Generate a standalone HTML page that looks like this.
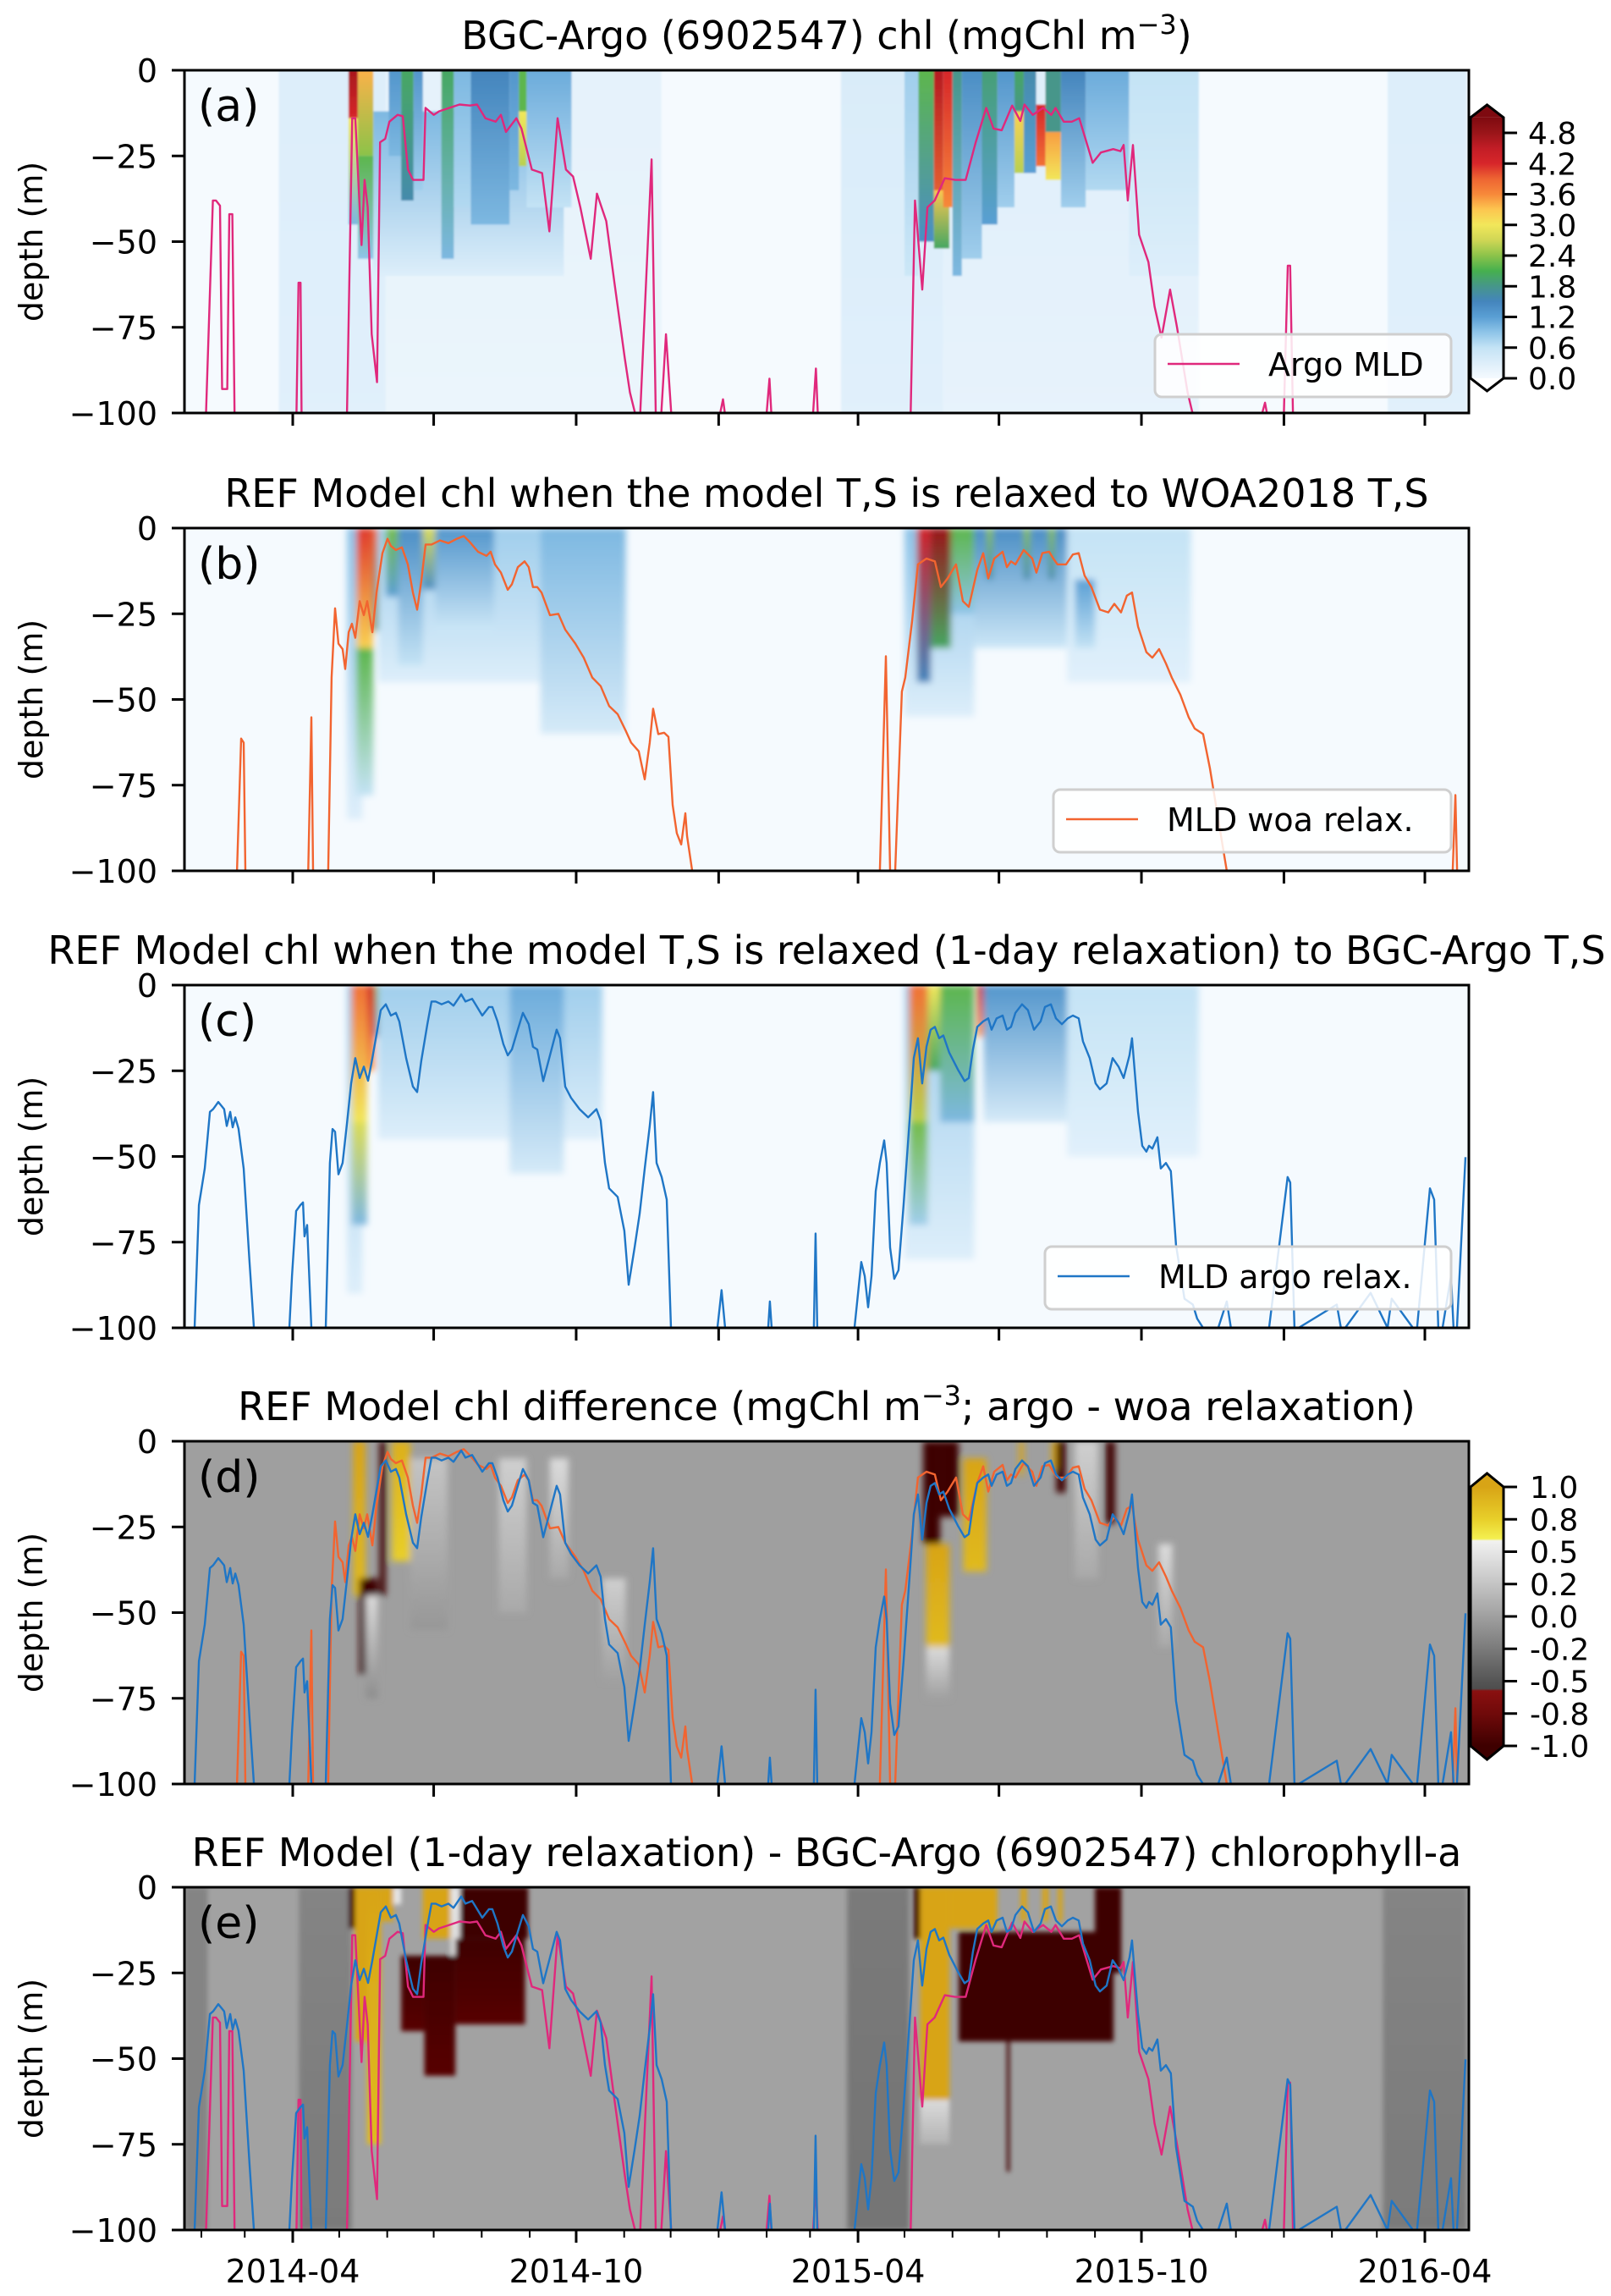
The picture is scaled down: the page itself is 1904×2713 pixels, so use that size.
<!DOCTYPE html>
<html><head><meta charset="utf-8"><style>
html,body{margin:0;padding:0;background:#fff;}
svg{display:block;font-family:"DejaVu Sans","Liberation Sans",sans-serif;}
</style></head><body>
<svg id="fig" xmlns="http://www.w3.org/2000/svg" width="1904" height="2713" viewBox="0 0 1904 2713"></svg>
<script>
// ---- data (day offsets relative to 2014-04-01, depth in m) ----
const mldArgoDay=[-56,-51.6,-49.6,-47,-45.6,-42.3,-41,-39,-37.6,2.4,3.7,5,5.7,35,38.4,40.4,44.4,46.4,48.4,51,54.4,56.4,59.7,62.4,67.7,71,74.4,77.7,84.4,85.7,91,94.4,101,107.7,114.4,119,124.4,131,134.4,137.7,144.4,147.7,154.4,161,165.7,171,176.4,181,185.7,192.4,196.4,202.4,207.7,214.4,217.7,221,224.4,227.7,231.7,234.4,238,241,244.4,276,277.8,279,306,307.8,309,336,337.8,339,399,401.8,406.5,409.8,414.5,421,427.8,434.5,441,447.8,452.5,457.8,464.5,469.8,472.5,477.8,484.5,489.8,492.5,497.8,503,507.8,512.5,516.5,521.8,529.8,534.5,536.5,539.2,542.5,546.5,552.5,556.5,561,566.5,571,577.8,581,626,627.8,629,640,642.5,644,645.8];
const mldArgoDepth=[100,38,38,39.5,93,93,42,42,100,100,62,62,100,100,14,14,51,32,40,77,91,21,20,15,13,13.4,29,32,32,11,13,12,11,10,10.3,10,14,15,13,18,14,17,29,30,47,14,29,31,40,55,36,44,62,84,94,100,100,66,26,100,100,77,100,100,96,100,100,90,100,100,87,100,100,38,64,40,38,31.5,32,32,21,11,17,17.5,10.3,14.8,10,13,11,13,11,15,15,14,21,27,24,23,23.6,21.8,38,21.8,48,56,69,78,64,75,94,100,100,97,100,100,57,57,100];
const mldWoaDay=[-36,-33.3,-31.7,-30.6,10,12,13.1,15.8,22.9,25.1,27.3,29.5,32.2,33.9,36.1,38.2,40.4,43.2,45.9,48.1,51.4,54.1,57.9,61.2,63.4,66.6,70.5,74.3,77.6,80.3,83,85.8,89.6,95.1,100.5,106,110.4,114.2,119.6,125.1,127.8,130.6,134.4,138.8,141.5,145.3,149.7,152.4,155.1,157.9,160.6,166.1,171.5,175.9,182.5,187.9,193.4,198.8,204.3,209.8,215.2,218.5,223.4,227.3,230.5,232.7,236,239.8,242.6,245.3,248,250.8,253.5,254.6,257.9,379.1,383,385.7,389,393.3,395.5,399.9,403.7,409.2,414.6,418.5,422.8,428.3,432.7,436.5,442,445.8,449.1,452.9,458.4,461.1,463.8,466.6,472,477.5,480.2,484,488.4,491.1,493.8,499.3,503.7,507.5,511.3,515.7,521.2,526.6,530.5,534.8,538.6,541.9,545.8,551.2,555,559.4,563.8,567.6,573.1,578.5,582.4,587.8,592.2,597.6,603.1,749,750.7,751.8];
const mldWoaDepth=[100,61.4,62.6,100,100,55.2,100,100,100,43.6,23.4,33.7,35.3,41.1,30.4,27.9,32,21.3,25.4,21.3,30.4,18.8,7.3,3.1,5.2,6.4,5.6,10.6,18.8,23.8,15.5,4.8,4.8,3.6,4.4,3.1,2.3,4,6.9,8.1,6.9,10.6,13,18,16.4,11.4,9.7,11.4,17.2,17.2,18.8,25.4,25,29.6,33.7,37.8,43.6,46.1,51.9,54.3,59.3,62.6,65.1,73.3,62.6,52.7,60.1,59.7,60.9,80.8,89,92.3,83.2,89.8,100,100,37.4,100,100,47.7,43.6,27.1,10.6,8.9,9.7,17.2,14.7,10.6,21.3,23,12.2,7.3,14.7,8.9,6.9,11.4,9.7,10.6,6.4,8.9,13,7.3,6.9,8.9,10.6,10.6,7.7,7.3,13.9,17.2,23.8,24.6,22.1,24.6,19.7,18.8,28.7,36.2,37.8,35.3,39.5,43.6,48.6,55.2,58.5,60.1,70,84.9,100,100,77.9,100];
const mldRelaxDay=[-63.4,-60.6,-56.8,-53.5,-51.4,-48.1,-45.9,-44.3,-42.6,-40.4,-38.8,-37.1,-35,-31.7,-27.9,-25.1,-2.2,-0.5,2.2,4.9,6.6,7.6,9.3,12,21.3,24,25.7,27.3,29.5,32.2,35,37.7,40.4,43.2,45.9,48.6,51.4,56.8,60.1,63.4,66.6,68.8,73.2,77.6,80.3,83,86.9,89.6,92.3,96.1,100.5,103.8,108.8,111.5,115.8,118,122.4,126.7,128.9,132.2,136,138.8,141.5,144.2,148.6,152.4,155.1,157.9,161.7,166.1,170.4,172.6,175.9,179.7,185.2,190.7,196.1,198.8,201.6,204.3,209.8,214.1,216.9,220.7,224,227.3,230.5,232.7,234.9,238.2,241.5,244.2,274.2,276.9,279.2,307,308.1,309.2,336.5,337.6,338.7,362.7,367.1,369.3,371.5,373.7,376.4,379.1,381.9,383.5,385.7,388.4,391.1,394.4,398.3,401,403.7,406.4,409.2,411.9,414.6,417.4,420.1,423.9,429.4,433.8,436.5,439.2,442,445.8,449.1,451.2,454.5,458.4,461.1,463.8,466.6,470.9,474.7,478.6,482.9,485.7,489.5,492.8,496.6,500.4,503.7,507.5,510.2,514.6,518.4,521.2,525.5,529.4,533.2,536.5,540.3,541.9,545.8,548.5,551.2,552.9,555,558.3,560.5,563.8,567,570.3,575.8,581.2,584,587.8,597.6,603.1,605.8,630.4,642.4,644.1,646.8,649.5,674.1,676.8,679.6,696,706.9,709.6,723.3,726,734.3,737,739.7,742.4,747.9,749.5,751.7,757.2,759.9];
const mldRelaxDepth=[100,64.2,53.5,37,36.2,34.1,35.3,36.2,41.1,37,41.5,38.6,41.9,53.5,80.8,100,100,84.9,65.9,64.2,63.4,73.3,70,100,100,51.9,42,42.8,55.2,51.9,40.3,28.7,21.3,27.1,23.8,27.9,21.3,7.3,5.6,8.9,8.1,10.6,21.3,29.6,31.2,22.1,11.4,4.8,4.8,5.6,4.8,6,2.7,4.8,4,5.6,8.9,6.4,6.4,10.6,17.2,20.5,18.8,14.7,8.1,11.4,18,18.8,28,20.5,13,15.5,29.6,32.9,36.2,38.6,36.2,39.5,51.9,59.3,61.8,71.7,87.4,76.6,66.7,53.5,41.1,31.2,51.9,56,62.6,100,100,89,100,100,92.3,100,100,72.5,100,100,80.8,84.9,94,84.9,60.1,51.9,45.3,51.9,76.6,85.7,83.2,64.2,39.5,21.3,15.5,28.7,18,13,12.2,15.5,14.7,19.7,24.6,28,27.1,18.8,12.2,10.6,9.7,13,9.7,8.9,13,12.2,8.1,5.6,7.3,13,10.6,6.4,5.6,9.7,11.4,9.7,8.9,9.7,16.4,21.3,28.7,30.4,28.7,21.3,23.8,27.1,20.5,15.5,37,46.9,48.6,46.9,47.7,44.4,53.5,51.9,54.3,75.8,91.5,93.2,97.3,100,100,92.3,100,100,56,57.6,100,100,93.2,100,100,89.8,100,91.5,100,100,59.3,62.6,100,100,84.9,100,100,50.2];

// heat-map patches: [dayStart, dayEnd, depthTop, depthBottom, valueTop, valueBottom]
const patchesA=[[-9,60,0,100,0.3,0.25],[60,238,0,100,0.2,0.12],[354,420,0,100,0.35,0.25],[420,585,0,100,0.28,0.18],[707,758,0,100,0.3,0.25],[52,175,12,60,1.0,0.3],[36,42,0,14,4.7,4.2],[36,42,14,45,3.0,1.0],[42,52,0,25,3.4,2.4],[42,52,25,55,2.2,0.9],[62,70,0,25,1.3,1.0],[70,78,0,38,2.0,1.6],[78,84,0,35,1.3,0.8],[96,104,0,55,2.0,1.0],[104,115,0,40,1.0,0.7],[115,140,0,45,1.5,1.0],[140,146,0,35,1.3,1.0],[146,151,0,12,2.2,2.2],[146,151,12,28,3.0,2.6],[151,180,0,40,1.1,0.6],[395,404,0,60,0.8,0.5],[404,414,0,50,2.2,1.4],[414,420,0,45,4.6,3.8],[414,424,35,52,3.3,2.0],[420,426,0,40,4.2,3.6],[426,432,0,60,1.8,1.0],[432,445,0,55,1.4,0.8],[445,455,0,45,1.9,1.2],[455,466,0,40,1.3,0.8],[466,472,0,12,2.0,1.8],[466,472,12,30,3.2,2.6],[472,480,0,30,1.6,1.2],[480,486,10,28,4.2,3.8],[486,496,18,32,3.5,3.0],[486,496,0,18,1.8,1.8],[496,512,0,40,1.5,0.8],[512,540,0,35,1.1,0.7],[540,585,0,60,0.6,0.3]];
const patchesB=[[35,45,0,85,0.9,0.3],[41,52,0,35,4.1,3.2],[41,52,35,78,2.2,0.6],[52,60,0,30,3.8,1.8],[55,180,0,45,0.8,0.3],[60,68,0,20,2.3,1.2],[68,84,0,40,1.4,0.6],[84,92,0,18,2.8,1.4],[92,130,0,30,1.3,0.5],[160,215,0,60,1.0,0.4],[395,440,0,55,0.9,0.3],[403,412,0,45,4.3,1.5],[412,425,0,35,4.8,2.0],[425,440,0,25,2.2,0.9],[440,500,0,35,1.4,0.5],[448,452,0,15,2.4,1.6],[472,476,0,15,2.4,1.6],[488,492,0,15,2.4,1.6],[500,580,0,45,0.6,0.25],[505,518,15,35,1.2,0.6]];
const patchesC=[[35,45,0,90,0.8,0.3],[38,48,0,40,3.8,3.0],[38,48,40,70,2.8,1.0],[48,53,0,25,4.3,3.5],[53,62,0,15,2.4,1.6],[62,95,0,35,1.6,0.5],[55,200,0,45,0.8,0.3],[140,175,0,55,1.1,0.4],[395,440,0,80,0.8,0.3],[398,410,0,40,3.8,2.6],[398,410,40,70,2.3,0.8],[410,418,0,25,3.0,2.0],[418,440,0,40,2.2,1.0],[442,446,0,15,4.5,3.5],[446,500,0,40,1.3,0.4],[500,585,0,50,0.6,0.25]];
const patchesD=[[39,47,0,45,1,0.9],[43,55,40,68,-1,-1],[56,60,0,45,-1,-1],[47,55,45,75,0.4,-0.1],[64,76,0,35,0.95,0.8],[76,100,5,55,0.2,-0.05],[133,151,5,50,0.3,0.05],[166,178,5,40,0.4,0.05],[200,215,40,70,0.3,0],[407,418,0,30,-1,-1],[418,430,0,22,-1,-1],[409,424,30,60,1,0.9],[409,424,60,75,0.4,0],[433,448,5,38,1,0.9],[469,472,0,10,1,1],[490,493,0,8,1,1],[493,499,0,15,-1,-1],[505,511,17,21,1,1],[525,531,0,24,-1,-1],[505,520,0,40,0.3,0.05],[559,568,30,60,0.4,0.05]];
const patchesE=[[-70,-55,0,100,-0.15,-0.15],[4,38,0,100,-0.15,-0.2],[358,398,0,100,-0.2,-0.25],[704,758,0,100,-0.15,-0.2],[36,41,0,12,-1,-1],[40,50,0,45,1,1],[48,57,0,75,1,0.9],[57,65,0,10,1,1],[65,70,0,5,0.5,0.5],[84,102,0,15,1,1],[102,110,0,20,0.5,0.4],[70,85,20,42,-1,-0.9],[85,105,20,55,-1,-0.9],[105,150,15,40,-1,-0.9],[108,152,0,15,-1,-1],[401,414,0,15,-1,-1],[405,424,0,62,1,1],[424,455,0,12,1,1],[430,530,13,45,-1,-1],[461,463,45,83,-1,-1],[518,535,0,25,-1,-1],[470,474,0,10,1,1],[484,488,0,10,1,1],[494,497,0,10,1,1],[405,424,62,75,0.4,0.1]];

const depthTicks=[0,25,50,75,100];
const chlTicks=[0.0,0.6,1.2,1.8,2.4,3.0,3.6,4.2,4.8];
const diffTicks=["1.0","0.8","0.5","0.2","0.0","-0.2","-0.5","-0.8","-1.0"];
const dateLabels=["2014-04","2014-10","2015-04","2015-10","2016-04"];

// ---- layout ----
const NS="http://www.w3.org/2000/svg";
const svg=document.getElementById('fig');
const L=218,R=1736,H=405;
const tops=[83,624,1164,1703,2230];
const x0=346,pxPerDay=1338/731;
function xOf(d){return x0+d*pxPerDay;}
function yOf(z,top){return top+z/100*H;}
function mk(tag,attrs,parent){const e=document.createElementNS(NS,tag);for(const k in attrs)e.setAttribute(k,attrs[k]);(parent||svg).appendChild(e);return e;}
function hex(c){c=c.replace('#','');if(c.length===3)c=c.split('').map(s=>s+s).join('');return[parseInt(c.slice(0,2),16),parseInt(c.slice(2,4),16),parseInt(c.slice(4,6),16)];}
function interp(stops,v){
  if(v<=stops[0][0])return stops[0][1];
  if(v>=stops[stops.length-1][0])return stops[stops.length-1][1];
  for(let i=0;i<stops.length-1;i++){const a=stops[i],b=stops[i+1];if(v>=a[0]&&v<=b[0]){const t=(v-a[0])/(b[0]-a[0]||1);const ca=hex(a[1]),cb=hex(b[1]);return 'rgb('+ca.map((x,j)=>Math.round(x+(cb[j]-x)*t)).join(',')+')';}}
}
const chlStops=[[0,'#f5fafe'],[0.3,'#ddeefa'],[0.6,'#c4e3f5'],[0.9,'#8ec4e8'],[1.2,'#5a9fd4'],[1.5,'#4485bd'],[1.8,'#46968a'],[2.1,'#46b04e'],[2.4,'#8cc34a'],[2.7,'#cfd655'],[3.0,'#f2e75a'],[3.3,'#fcc650'],[3.6,'#f7893a'],[3.9,'#ee6532'],[4.2,'#d7262a'],[4.5,'#c21d26'],[4.8,'#9a1519'],[5.1,'#7e0a10']];
const diffStops=[[-1,'#3e0000'],[-0.8,'#700a0a'],[-0.59,'#8a1010'],[-0.57,'#4e4e4e'],[-0.5,'#555555'],[-0.2,'#7a7a7a'],[0,'#a0a0a0'],[0.2,'#c4c4c4'],[0.5,'#e6e6e6'],[0.6,'#f2f2f0'],[0.62,'#f4f050'],[0.8,'#e8cf2a'],[1,'#d8a416']];

const defs=mk('defs',{});
[['blurA',1.0],['blurM',4],['blurS',3]].forEach(([id,s])=>{const f=mk('filter',{id:id,x:'-5%',y:'-5%',width:'110%',height:'110%'},defs);mk('feGaussianBlur',{stdDeviation:s},f);});
let gid=0;
function gradient(c1,c2){const id='g'+(gid++);const g=mk('linearGradient',{id:id,x1:0,y1:0,x2:0,y2:1},defs);mk('stop',{offset:0,'stop-color':c1},g);mk('stop',{offset:1,'stop-color':c2},g);return id;}

const panels=[
 {key:'a',title:'BGC-Argo (6902547) chl (mgChl m',sup:'−3',after:')',bg:'#f5fafe',patches:patchesA,stops:chlStops,blur:'blurA',lines:[['argo-mld-line',mldArgoDay,mldArgoDepth,'#e0287c']],legend:['Argo MLD','#e0287c',1365,395,350]},
 {key:'b',title:'REF Model chl when the model T,S is relaxed to WOA2018 T,S',bg:'#f5fafe',patches:patchesB,stops:chlStops,blur:'blurM',lines:[['woa-mld-line',mldWoaDay,mldWoaDepth,'#f26430']],legend:['MLD woa relax.','#f26430',1245,933,470]},
 {key:'c',title:'REF Model chl when the model T,S is relaxed (1-day relaxation) to BGC-Argo T,S',bg:'#f5fafe',patches:patchesC,stops:chlStops,blur:'blurM',lines:[['relax-mld-line',mldRelaxDay,mldRelaxDepth,'#1f76c6']],legend:['MLD argo relax.','#1f76c6',1235,1473,480]},
 {key:'d',title:'REF Model chl difference (mgChl m',sup:'−3',after:'; argo - woa relaxation)',bg:'#9f9f9f',patches:patchesD,stops:diffStops,blur:'blurM',lines:[['woa-mld-line',mldWoaDay,mldWoaDepth,'#f26430'],['relax-mld-line',mldRelaxDay,mldRelaxDepth,'#1f76c6']]},
 {key:'e',title:'REF Model (1-day relaxation) - BGC-Argo (6902547) chlorophyll-a',bg:'#a2a2a2',patches:patchesE,stops:diffStops,blur:'blurS',lines:[['argo-mld-line',mldArgoDay,mldArgoDepth,'#e0287c'],['relax-mld-line',mldRelaxDay,mldRelaxDepth,'#1f76c6']]}
];

const base=Date.UTC(2014,3,1);
const months=[];
for(let y=2014;y<=2016;y++)for(let m=0;m<12;m++){const d=(Date.UTC(y,m,1)-base)/86400000;const x=xOf(d);if(x>=L&&x<=R)months.push({d:d,m:m,y:y});}

panels.forEach((p,i)=>{
  const top=tops[i];
  const g=mk('g',{});
  
  
  const cp=mk('clipPath',{id:'clip'+p.key},defs);mk('rect',{x:L,y:top,width:R-L,height:H},cp);
  const bg=mk('rect',{x:L,y:top,width:R-L,height:H,fill:p.bg},g);
  
  
  const field=mk('g',{'clip-path':'url(#clip'+p.key+')'},g);
  const inner=mk('g',p.blur?{filter:'url(#'+p.blur+')'}:{},field);
  
  
  p.patches.forEach(pt=>{
    const id=gradient(interp(p.stops,pt[4]),interp(p.stops,pt[5]));
    const r=mk('rect',{x:xOf(pt[0]),y:yOf(pt[2],top),width:Math.max(1,xOf(pt[1])-xOf(pt[0])),height:yOf(pt[3],top)-yOf(pt[2],top),fill:'url(#'+id+')'},inner);
    
    
  });
  const lg=mk('g',{'clip-path':'url(#clip'+p.key+')'},g);
  p.lines.forEach(ln=>{
    const pts=ln[1].map((d,k)=>xOf(d).toFixed(1)+','+yOf(Math.min(ln[2][k],101),top).toFixed(1)).join(' ');
    const pl=mk('polyline',{points:pts,fill:'none',stroke:ln[3],'stroke-width':2.4,'stroke-linejoin':'round'},lg);
    
    
  });
  const fr=mk('rect',{x:L,y:top,width:R-L,height:H,fill:'none',stroke:'#000','stroke-width':3},g);
  
  
  depthTicks.forEach(t=>{
    const y=yOf(t,top);
    mk('line',{x1:L-15,x2:L,y1:y,y2:y,stroke:'#000','stroke-width':3},g);
    const tx=mk('text',{x:186,y:y+14,'text-anchor':'end','font-size':38},g);
    tx.textContent=t===0?'0':'−'+t;
    
    
  });
  months.forEach(mo=>{
    const x=xOf(mo.d);const major=(mo.m%3===0);
    if(p.key!=='e'&&!major)return;
    const big=p.key==='e'?(mo.m===3||mo.m===9):true;
    mk('line',{x1:x,x2:x,y1:top+H,y2:top+H+(big?15:9),stroke:'#000','stroke-width':big?3:2},g);
  });
  const yl=mk('text',{x:0,y:0,'font-size':38,'text-anchor':'middle',transform:'translate(50,'+(top+H/2)+') rotate(-90)'},g);
  yl.textContent='depth (m)';
  
  
  const tt=mk('text',{x:(L+R)/2,y:top-25,'font-size':46,'text-anchor':'middle'},g);
  
  
  tt.appendChild(document.createTextNode(p.title));
  if(p.sup){const s=mk('tspan',{'font-size':32,dy:-18},tt);s.textContent=p.sup;const a=mk('tspan',{dy:18},tt);a.textContent=p.after;}
  const lt=mk('text',{x:234,y:top+60,'font-size':52},g);
  lt.textContent='('+p.key+')';
  
  
  if(p.legend){
    const [lab,col,lx,ly,lw]=p.legend;
    const lgd=mk('g',{},g);
    
    
    mk('rect',{x:lx,y:ly,width:lw,height:74,rx:8,fill:'#ffffff','fill-opacity':0.85,stroke:'#cfcfcf','stroke-width':3},lgd);
    mk('line',{x1:lx+15,x2:lx+100,y1:ly+35,y2:ly+35,stroke:col,'stroke-width':2.5},lgd);
    const t=mk('text',{x:lx+134,y:ly+49,'font-size':38},lgd);
    t.textContent=lab;
    
    
  }
});

dateLabels.forEach(s=>{
  const [yy,mm]=s.split('-').map(Number);
  const d=(Date.UTC(yy,mm-1,1)-base)/86400000;
  const t=mk('text',{x:xOf(d),y:2697,'font-size':38,'text-anchor':'middle'});
  t.textContent=s;
  
  
});

(function(){
  const g=mk('g',{});
  
  
  const cx0=1738,cx1=1777,yb=447,per=(447-157)/4.8,yt=yb-5.1*per;
  const gi='cbchl';const lg=mk('linearGradient',{id:gi,x1:0,y1:1,x2:0,y2:0},defs);
  chlStops.forEach(s=>mk('stop',{offset:s[0]/5.1,'stop-color':s[1]},lg));
  mk('rect',{x:cx0,y:yt,width:cx1-cx0,height:yb-yt,fill:'url(#'+gi+')'},g);
  mk('polygon',{points:`${cx0},${yt} ${(cx0+cx1)/2},${yt-15} ${cx1},${yt}`,fill:'#7e0a10'},g);
  mk('polygon',{points:`${cx0},${yb} ${(cx0+cx1)/2},${yb+15} ${cx1},${yb}`,fill:'#ffffff'},g);
  mk('polygon',{points:`${cx0},${yt} ${(cx0+cx1)/2},${yt-15} ${cx1},${yt} ${cx1},${yb} ${(cx0+cx1)/2},${yb+15} ${cx0},${yb}`,fill:'none',stroke:'#000','stroke-width':3},g);
  chlTicks.forEach(v=>{const y=yb-v*per;mk('line',{x1:cx1,x2:cx1+16,y1:y,y2:y,stroke:'#000','stroke-width':3},g);
    const t=mk('text',{x:1806,y:y+13,'font-size':36},g);t.textContent=v.toFixed(1);
    
    });
})();
(function(){
  const g=mk('g',{});
  
  
  const cx0=1738,cx1=1777,yt=1757,yb=2063,step=(yb-yt)/8;
  const tv=diffTicks.map(Number);
  function posOf(v){for(let k=0;k<8;k++){const a=tv[k],b=tv[k+1];if(v<=a&&v>=b)return (k+(a-v)/(a-b))/8;}return v>0?0:1;}
  const gi='cbdiff';const lg=mk('linearGradient',{id:gi,x1:0,y1:0,x2:0,y2:1},defs);
  diffStops.slice().reverse().forEach(s=>mk('stop',{offset:posOf(s[0]),'stop-color':s[1]},lg));
  mk('rect',{x:cx0,y:yt,width:cx1-cx0,height:yb-yt,fill:'url(#'+gi+')'},g);
  mk('polygon',{points:`${cx0},${yt} ${(cx0+cx1)/2},${yt-16} ${cx1},${yt}`,fill:'#d8a416'},g);
  mk('polygon',{points:`${cx0},${yb} ${(cx0+cx1)/2},${yb+16} ${cx1},${yb}`,fill:'#3e0000'},g);
  mk('polygon',{points:`${cx0},${yt} ${(cx0+cx1)/2},${yt-16} ${cx1},${yt} ${cx1},${yb} ${(cx0+cx1)/2},${yb+16} ${cx0},${yb}`,fill:'none',stroke:'#000','stroke-width':3},g);
  diffTicks.forEach((s,k)=>{const y=yt+k*step;mk('line',{x1:cx1,x2:cx1+16,y1:y,y2:y,stroke:'#000','stroke-width':3},g);
    const t=mk('text',{x:1808,y:y+13,'font-size':36},g);t.textContent=s;
    
    });
})();
</script>
</body></html>
